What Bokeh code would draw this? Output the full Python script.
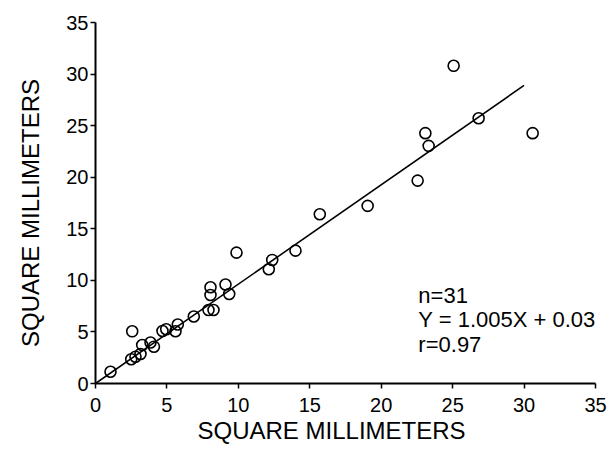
from bokeh.plotting import figure
from bokeh.models import FixedTicker, Range1d, Label, Title
from bokeh.embed import file_html
from bokeh.resources import INLINE

# data
x_vals = [1.05, 2.57, 2.50, 2.80, 3.15, 3.27, 3.85, 4.09, 4.69, 4.95, 5.60,
          5.76, 6.88, 7.91, 8.26, 8.05, 8.05, 9.10, 9.36, 9.87, 12.13, 12.37,
          14.00, 15.70, 19.05, 22.55, 23.09, 23.32, 25.07, 26.82, 30.60]
y_vals = [1.14, 5.06, 2.35, 2.60, 2.86, 3.73, 3.98, 3.57, 5.09, 5.26, 5.07,
          5.72, 6.50, 7.13, 7.13, 8.58, 9.33, 9.60, 8.68, 12.69, 11.08, 11.98,
          12.88, 16.41, 17.22, 19.67, 24.27, 23.04, 30.80, 25.72, 24.27]
fit_x = [0.0, 30.0]
fit_y = [0.0, 28.9]
ticks = [0, 5, 10, 15, 20, 25, 30, 35]
x_title = "SQUARE MILLIMETERS"
y_title = "SQUARE MILLIMETERS"
stats_lines = ["n=31", "Y = 1.005X + 0.03", "r=0.97"]

FONT = "Liberation Sans"

p = figure(width=609, height=449, output_backend="svg", toolbar_location=None,
           x_range=Range1d(0, 35), y_range=Range1d(0, 35),
           min_border_left=95, min_border_right=14, min_border_top=22,
           min_border_bottom=66)
p.outline_line_color = None
p.xgrid.visible = False
p.ygrid.visible = False
p.background_fill_color = "white"
p.border_fill_color = "white"

for ax in (p.xaxis[0], p.yaxis[0]):
    ax.ticker = FixedTicker(ticks=ticks)
    ax.minor_tick_line_color = None
    ax.major_tick_in = 0
    ax.major_tick_out = 5
    ax.major_tick_line_width = 1.5
    ax.major_tick_line_color = "black"
    ax.axis_line_width = 2
    ax.axis_line_color = "black"
    ax.major_label_text_font = FONT
    ax.major_label_text_font_size = "20px"
    ax.major_label_text_color = "black"

p.xaxis[0].major_label_standoff = 9
p.yaxis[0].major_label_standoff = 2

yax = p.yaxis[0]
yax.axis_label = y_title + "\u00a0\u00a0\u00a0"
yax.axis_label_text_font = FONT
yax.axis_label_text_font_size = "24px"
yax.axis_label_text_font_style = "normal"
yax.axis_label_text_color = "black"
yax.axis_label_standoff = 19

p.add_layout(Title(text=x_title, text_font=FONT, text_font_size="24px",
                   text_font_style="normal", text_color="black",
                   align="left", offset=102, standoff=0,
                   vertical_align="bottom"), "below")

p.line(fit_x, fit_y, line_color="black", line_width=1.6)
p.scatter(x_vals, y_vals, size=11, marker="circle", fill_alpha=0,
          line_color="black", line_width=1.6)

base_y = [8.58, 6.16, 3.74]
for txt, yy in zip(stats_lines, base_y):
    p.add_layout(Label(x=22.6, y=yy, text=txt, text_font=FONT,
                       text_font_size="22px", text_color="black",
                       text_baseline="alphabetic"))

open("out.html", "w").write(file_html(p, INLINE))
